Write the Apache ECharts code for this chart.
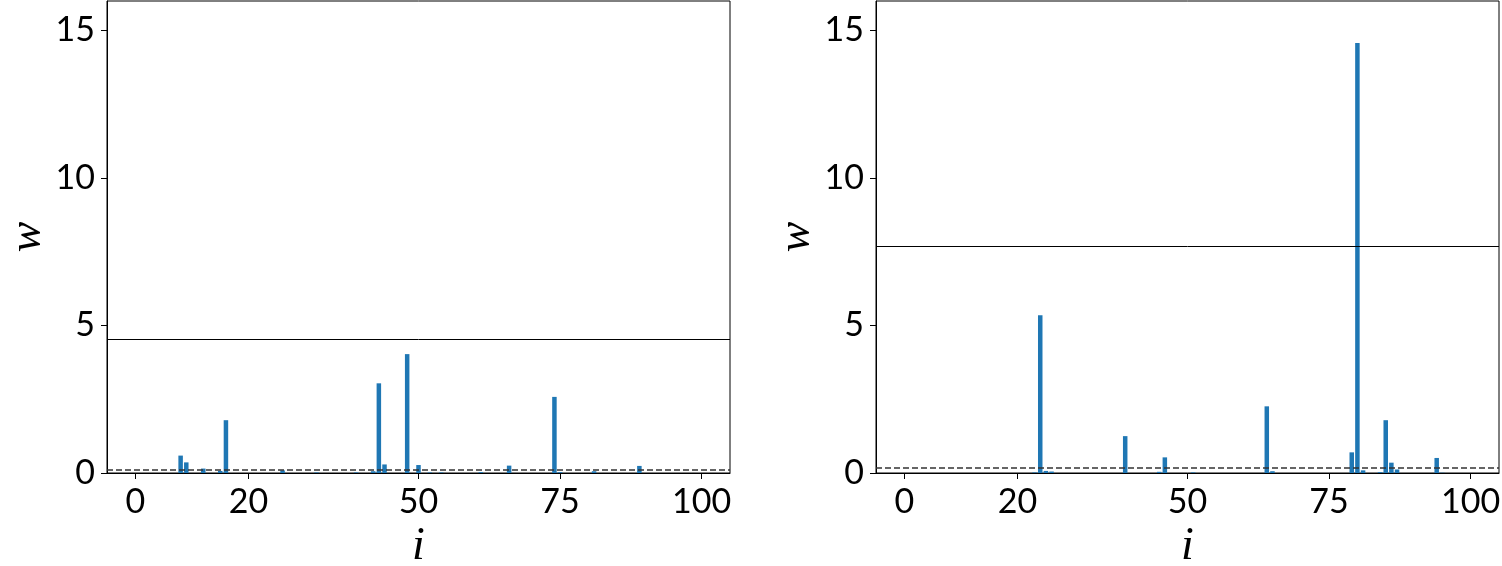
<!DOCTYPE html>
<html>
<head>
<meta charset="utf-8">
<script src="https://cdn.jsdelivr.net/npm/echarts@6/dist/echarts.min.js"></script>
<style>
  html, body { margin: 0; padding: 0; background: #fff; }
  #chart { width: 1502px; height: 566px; }
</style>
</head>
<body>
<div id="chart"></div>
<script>
// left panel: bar index and weight
const leftIdx = [8, 9, 12, 15, 16, 26, 32, 39, 42, 43, 44, 48, 50, 52, 54, 61, 66, 74, 75, 81, 89];
const leftVal = [0.59, 0.36, 0.15, 0.07, 1.79, 0.09, 0.02, 0.02, 0.06, 3.04, 0.29, 4.03, 0.27, 0.02, 0.02, 0.03, 0.25, 2.58, 0.03, 0.06, 0.24];
const leftSolid = 4.55;
const leftDashed = 0.1;

// right panel
const rightIdx = [23, 24, 25, 26, 39, 45, 46, 51, 64, 65, 79, 80, 81, 84, 85, 86, 87, 94, 95];
const rightVal = [0.02, 5.35, 0.07, 0.05, 1.25, 0.04, 0.53, 0.02, 2.26, 0.06, 0.70, 14.58, 0.09, 0.03, 1.79, 0.35, 0.12, 0.51, 0.01];
const rightSolid = 7.67;
const rightDashed = 0.17;

const xTicks = [0, 20, 50, 75, 100];
const yTicks = [0, 5, 10, 15];

const chart = echarts.init(document.getElementById("chart"), null, { renderer: "canvas" });

const tickFont = { fontFamily: "Lato", fontSize: 34, color: "#000" };
const nameFont = { fontFamily: "Liberation Serif", fontStyle: "italic", fontSize: 46, color: "#000" };

function xAxis(gridIndex) {
  return {
    gridIndex, type: "value", min: -5, max: 105,
    name: "i", nameLocation: "middle", nameGap: 44, nameTextStyle: nameFont,
    axisLine: { show: true, onZero: false, lineStyle: { color: "#000", width: 1 } },
    axisTick: { show: true, customValues: xTicks, length: 6, lineStyle: { color: "#000", width: 1 } },
    axisLabel: { customValues: xTicks, margin: 12, ...tickFont },
    splitLine: { show: false }
  };
}

function yAxis(gridIndex) {
  return {
    gridIndex, type: "value", min: 0, max: 16,
    name: "w", nameLocation: "middle", nameRotate: 90, nameGap: 56, nameTextStyle: nameFont,
    axisLine: { show: true, onZero: false, lineStyle: { color: "#000", width: 1 } },
    axisTick: { show: true, customValues: yTicks, length: 6, lineStyle: { color: "#000", width: 1 } },
    axisLabel: { customValues: yTicks, margin: 12, ...tickFont },
    splitLine: { show: false }
  };
}

function barSeries(i, idx, val, solid, dashed) {
  return {
    type: "bar", xAxisIndex: i, yAxisIndex: i,
    data: idx.map((x, k) => [x, val[k]]),
    barWidth: 4.5,
    itemStyle: { color: "#1f77b4" },
    markLine: {
      silent: true, symbol: ["none", "none"], label: { show: false },
      data: [
        { yAxis: solid, lineStyle: { type: "solid", color: "#000", width: 1 } },
        { yAxis: dashed, lineStyle: { type: [6, 3], color: "#333", width: 1.5 } }
      ]
    }
  };
}

chart.setOption({
  animation: false,
  grid: [
    { left: 107, top: 1, width: 623, height: 472, show: true, borderColor: "#000", borderWidth: 1, outerBoundsMode: "none" },
    { left: 876, top: 1, width: 623, height: 472, show: true, borderColor: "#000", borderWidth: 1, outerBoundsMode: "none" }
  ],
  xAxis: [xAxis(0), xAxis(1)],
  yAxis: [yAxis(0), yAxis(1)],
  series: [
    barSeries(0, leftIdx, leftVal, leftSolid, leftDashed),
    barSeries(1, rightIdx, rightVal, rightSolid, rightDashed)
  ]
});
</script>
</body>
</html>
